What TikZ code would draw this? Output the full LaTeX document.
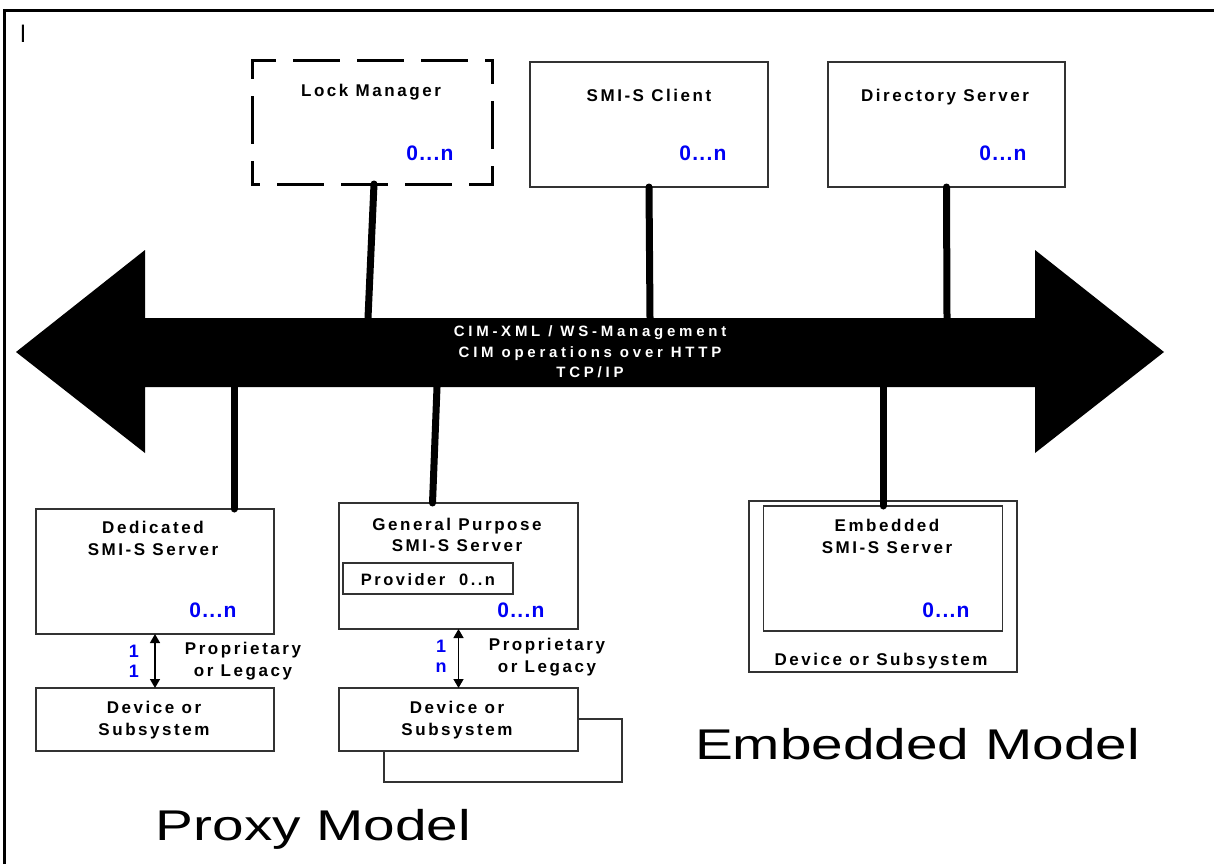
\documentclass[tikz,border=0pt]{standalone}
\usepackage{fontspec}
\setmainfont{Liberation Sans}
\newfontfamily\lblfont[LetterSpace=15]{Liberation Sans}
\newfontfamily\busfont[LetterSpace=25]{Liberation Sans}
\newfontfamily\multfont[LetterSpace=6]{Liberation Sans}
\usetikzlibrary{arrows.meta, positioning}
\definecolor{multblue}{RGB}{0,0,245}
\definecolor{boxline}{RGB}{50,50,50}
\tikzset{
	box/.style={draw=boxline, line width=1.4pt, fill=white, inner sep=0pt, outer sep=0pt},
	lbl/.style={font=\lblfont\bfseries\fontsize{17pt}{21.5pt}\selectfont, align=center, inner sep=0pt},
	mult/.style={font=\multfont\bfseries\fontsize{21pt}{24pt}\selectfont, text=multblue, anchor=base, inner sep=0pt},
	link/.style={line width=7pt, line cap=round},
	lockdash/.style={line width=3pt, line cap=rect, dash pattern=on 44pt off 20pt, dash phase=22pt},
	dbl/.style={line width=1.4pt, {Triangle[length=9pt,width=10pt]}-{Triangle[length=9pt,width=10pt]}},
	model/.style={font=\fontsize{43pt}{48pt}\selectfont, anchor=base, inner sep=0pt}
}

\begin{document}
\begin{tikzpicture}[x=1pt, y=-1pt]
	\useasboundingbox (0,0) rectangle (1214,864);
	% frame
	\draw[line width=2.5pt] (4.3,864) -- (4.3,10.5) -- (1214,10.5);
	\node[font=\fontsize{24pt}{28pt}\selectfont, anchor=base, inner sep=0pt] (mark) at (23,43) {l};

	% bus
	\fill (16,352) -- (145,250) -- (145,318) -- (1035,318) -- (1035,250) -- (1164,352)
		-- (1035,453) -- (1035,387) -- (145,387) -- (145,453) -- cycle;
	\node[font=\busfont\bfseries\fontsize{15pt}{20.5pt}\selectfont, text=white, align=center] (bus) at (590,352)
		{CIM-XML / WS-Management\\CIM operations over HTTP\\TCP/IP};
	\coordinate (busLock) at (368,318);
	\coordinate (busClient) at (650,318);
	\coordinate (busDir) at (947,318);
	\coordinate (busDed) at (234,387);
	\coordinate (busGP) at (437,387);
	\coordinate (busEmb) at (883,387);

	% top row
	\node[box, draw=none, fill=none, minimum width=240pt, minimum height=123pt] (lockmgr) at (372,122.5) {};
	\foreach \a/\b in {north west/north east, north east/south east, south east/south west, south west/north west}
		\draw[lockdash] (lockmgr.\a) -- (lockmgr.\b);
	\node[lbl, anchor=base] (lockmgrName) at (371,97) {Lock Manager};
	\node[mult] (lockmgrMult) at (430,160.5) {0...n};

	\node[box, minimum width=238pt, minimum height=125pt] (client) at (649,124.5) {};
	\node[lbl, anchor=base] (clientName) at (649,102) {SMI-S Client};
	\node[mult] (clientMult) at (703,160.5) {0...n};

	\node[box, minimum width=237pt, minimum height=125pt] (dirsrv) at (946.5,124.5) {};
	\node[lbl, anchor=base] (dirsrvName) at (945,102) {Directory Server};
	\node[mult] (dirsrvMult) at (1003,160.5) {0...n};

	\draw[link] ([xshift=2pt]lockmgr.south) -- (busLock);
	\draw[link] (client.south) -- (busClient);
	\draw[link] (dirsrv.south) -- (busDir);

	% proxy model, dedicated
	\node[box, minimum width=238pt, minimum height=125pt] (dedsrv) at (155,571.5) {};
	\node[lbl] (dedsrvName) at (153,538.5) {Dedicated\\SMI-S Server};
	\node[mult] (dedsrvMult) at (213,617.5) {0...n};
	\node[box, minimum width=238pt, minimum height=63pt] (dedev) at (155,719.5) {};
	\node[lbl] (dedevName) at (154,720) {Device or\\Subsystem};
	\draw[link] (busDed) -- (busDed |- dedsrv.north);
	\draw[dbl] (dedsrv.south) -- (dedev.north);
	\node[lbl, text=multblue, font=\lblfont\bfseries\fontsize{18pt}{20pt}\selectfont] (dedTop) at (134,651) {1};
	\node[lbl, text=multblue, font=\lblfont\bfseries\fontsize{18pt}{20pt}\selectfont] (dedBot) at (134,671) {1};
	\node[lbl] (dedLink) at (243,661) {Proprietary\\or Legacy};

	% proxy model, general purpose
	\node[box, minimum width=238pt, minimum height=63pt] (gpdevBack) at (503,750.5) {};
	\node[box, minimum width=239pt, minimum height=63pt] (gpdev) at (458.5,719.5) {};
	\node[lbl] (gpdevName) at (457,720) {Device or\\Subsystem};
	\node[box, minimum width=239pt, minimum height=126pt] (gpsrv) at (458.5,566) {};
	\node[lbl] (gpsrvName) at (457,535) {General Purpose\\SMI-S Server};
	\node[box, minimum width=170pt, minimum height=31pt] (provider) at (428,578.5) {};
	\node[lbl, anchor=base, font=\lblfont\bfseries\fontsize{16.5pt}{20pt}\selectfont] (providerName) at (428,585) {Provider\hspace{14pt}0..n};
	\node[mult] (gpsrvMult) at (521,617.5) {0...n};
	\draw[link] (busGP) -- ([xshift=-26pt]gpsrv.north);
	\draw[dbl] (gpsrv.south) -- (gpdev.north);
	\node[lbl, text=multblue, font=\lblfont\bfseries\fontsize{18pt}{20pt}\selectfont] (gpTop) at (441,646) {1};
	\node[lbl, text=multblue, font=\lblfont\bfseries\fontsize{18pt}{20pt}\selectfont, anchor=base] (gpBot) at (441,672.7) {n};
	\node[lbl] (gpLink) at (547,657) {Proprietary\\or Legacy};

	% embedded model
	\node[box, minimum width=268pt, minimum height=171pt] (embdev) at (883,586.5) {};
	\node[lbl, anchor=base] (embdevName) at (881,665) {Device or Subsystem};
	\node[box, minimum width=239pt, minimum height=125pt] (embsrv) at (883,568.5) {};
	\node[lbl] (embsrvName) at (887,536.5) {Embedded\\SMI-S Server};
	\node[mult] (embsrvMult) at (946,617.5) {0...n};
	\draw[link] (busEmb) -- (busEmb |- embsrv.north);

	% captions
	\node[model] (proxyModel) at (313.5,840) {\scalebox{1.32}[1]{Proxy Model}};
	\node[model] (embModel) at (917.5,759.5) {\scalebox{1.32}[1]{Embedded Model}};
\end{tikzpicture}
\end{document}
